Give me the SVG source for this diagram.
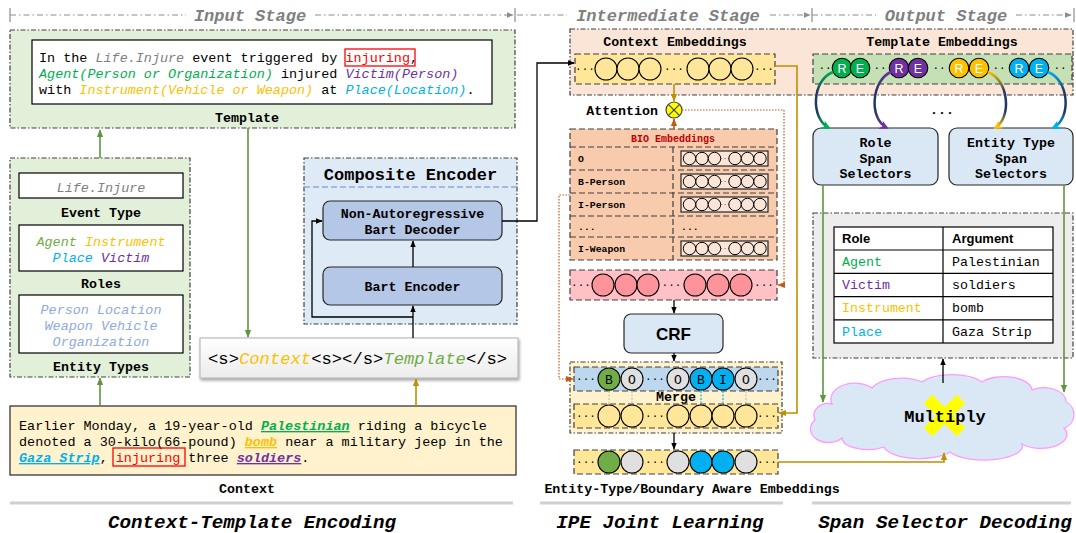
<svg xmlns="http://www.w3.org/2000/svg" width="1076" height="533" viewBox="0 0 1076 533">
<defs>
<style>
.m{font-family:"Liberation Mono","DejaVu Sans Mono",monospace}
.b{font-weight:bold}
.i{font-style:italic}
.s{font-family:"Liberation Sans",Arial,sans-serif}
.dd{stroke:#404040;stroke-width:1.2;stroke-dasharray:5,2,1.5,2}
.ds{stroke:#404040;stroke-width:1.2;stroke-dasharray:6,3}
.c{stroke:#000;stroke-width:1.1}
.hdr{font-family:"Liberation Mono",monospace;font-style:italic;font-weight:bold;font-size:17px;fill:#808080;text-anchor:middle}
.hl{stroke:#8c8c8c;stroke-width:1.2;stroke-dasharray:6,3,1.5,3;fill:none}
.tk{stroke:#8c8c8c;stroke-width:1.2}
.ttl{font-family:"Liberation Mono",monospace;font-style:italic;font-weight:bold;font-size:19.2px;text-anchor:middle}
.lbl{font-family:"Liberation Mono",monospace;font-weight:bold;font-size:13.3px;text-anchor:middle}
.lble{font-family:"Liberation Mono",monospace;font-weight:bold;font-size:13.3px;text-anchor:end}
.bar{stroke:#d0d0d0;stroke-width:3}
.dots{font-family:"Liberation Mono",monospace;font-size:11px;text-anchor:middle}
.ck{fill:none;stroke:#000;stroke-width:1.3}
.cg{fill:none;stroke:#5f9441;stroke-width:1.6}
.co{fill:none;stroke:#bf9000;stroke-width:1.6}
.cr{fill:none;stroke:#c55a11;stroke-width:1.2;stroke-dasharray:1.5,1.5}
.re{font-family:"Liberation Sans",Arial,sans-serif;font-size:12.5px;fill:#fff;text-anchor:middle}
.bo{font-family:"Liberation Mono",monospace;font-size:13px;text-anchor:middle}
.tv{font-family:"Liberation Mono",monospace;font-size:13.3px}
</style>
<marker id="ak" viewBox="0 0 10 10" refX="9" refY="5" markerWidth="7" markerHeight="7" markerUnits="userSpaceOnUse" orient="auto"><path d="M0,1L10,5L0,9z" fill="#000"/></marker>
<marker id="ag" viewBox="0 0 10 10" refX="9" refY="5" markerWidth="8" markerHeight="8" markerUnits="userSpaceOnUse" orient="auto"><path d="M0,1L10,5L0,9z" fill="#5f9441"/></marker>
<marker id="ao" viewBox="0 0 10 10" refX="9" refY="5" markerWidth="8" markerHeight="8" markerUnits="userSpaceOnUse" orient="auto"><path d="M0,1L10,5L0,9z" fill="#bf9000"/></marker>
<marker id="ar" viewBox="0 0 10 10" refX="9" refY="5" markerWidth="8" markerHeight="8" markerUnits="userSpaceOnUse" orient="auto"><path d="M0,1L10,5L0,9z" fill="#c55a11"/></marker>
<marker id="ah" viewBox="0 0 10 10" refX="9" refY="5" markerWidth="7" markerHeight="7" markerUnits="userSpaceOnUse" orient="auto"><path d="M0,1L10,5L0,9z" fill="#8c8c8c"/></marker>
<marker id="mG" viewBox="0 0 10 10" refX="8" refY="5" markerWidth="9" markerHeight="9" markerUnits="userSpaceOnUse" orient="auto"><path d="M0,0L10,5L0,10L3,5z" fill="#00b050"/></marker>
<marker id="mP" viewBox="0 0 10 10" refX="8" refY="5" markerWidth="9" markerHeight="9" markerUnits="userSpaceOnUse" orient="auto"><path d="M0,0L10,5L0,10L3,5z" fill="#7030a0"/></marker>
<marker id="mY" viewBox="0 0 10 10" refX="8" refY="5" markerWidth="9" markerHeight="9" markerUnits="userSpaceOnUse" orient="auto"><path d="M0,0L10,5L0,10L3,5z" fill="#ffc000"/></marker>
<marker id="mB" viewBox="0 0 10 10" refX="8" refY="5" markerWidth="9" markerHeight="9" markerUnits="userSpaceOnUse" orient="auto"><path d="M0,0L10,5L0,10L3,5z" fill="#00b0f0"/></marker>
<linearGradient id="gG" x1="0" y1="0" x2="0" y2="1"><stop offset="0" stop-color="#00b050"/><stop offset="0.35" stop-color="#1f3864"/><stop offset="0.7" stop-color="#1f3864"/><stop offset="1" stop-color="#00b050"/></linearGradient>
<linearGradient id="gP" x1="0" y1="0" x2="0" y2="1"><stop offset="0" stop-color="#7030a0"/><stop offset="0.35" stop-color="#1f3864"/><stop offset="0.7" stop-color="#1f3864"/><stop offset="1" stop-color="#7030a0"/></linearGradient>
<linearGradient id="gY" x1="0" y1="0" x2="0" y2="1"><stop offset="0" stop-color="#ffc000"/><stop offset="0.35" stop-color="#1f3864"/><stop offset="0.7" stop-color="#1f3864"/><stop offset="1" stop-color="#ffc000"/></linearGradient>
<linearGradient id="gB" x1="0" y1="0" x2="0" y2="1"><stop offset="0" stop-color="#00b0f0"/><stop offset="0.35" stop-color="#1f3864"/><stop offset="0.7" stop-color="#1f3864"/><stop offset="1" stop-color="#00b0f0"/></linearGradient>
<linearGradient id="gS" x1="0" y1="0" x2="0" y2="1"><stop offset="0" stop-color="#ffffff"/><stop offset="1" stop-color="#ececec"/></linearGradient>
<filter id="sh" x="-5%" y="-20%" width="110%" height="160%"><feDropShadow dx="1" dy="2" stdDeviation="1.5" flood-color="#7f7f7f" flood-opacity="0.7"/></filter>
<g id="mini">
<rect x="0" y="0" width="87" height="15" fill="#fbe5d6" stroke="#262626" stroke-width="1.2"/>
<g fill="#fbe5d6" stroke="#000" stroke-width="1">
<circle cx="8.5" cy="7.5" r="6.2"/><circle cx="21" cy="7.5" r="6.2"/><circle cx="33.5" cy="7.5" r="6.2"/>
<circle cx="54" cy="7.5" r="6.2"/><circle cx="66.5" cy="7.5" r="6.2"/><circle cx="79" cy="7.5" r="6.2"/>
</g>
<text x="44" y="9" font-family="Liberation Mono,monospace" font-size="6" text-anchor="middle">···</text>
</g>
</defs>

<rect width="1076" height="533" fill="#ffffff"/>

<g id="stage-headers">
<path class="tk" d="M10,8V22"/><path class="hl" d="M10,15H186"/>
<text class="hdr" x="250" y="21">Input Stage</text>
<path class="hl" d="M315,15H513" marker-end="url(#ah)"/><path class="tk" d="M515,8V22"/>
<path class="hl" d="M517,15H567"/>
<text class="hdr" x="668" y="21">Intermediate Stage</text>
<path class="hl" d="M770,15H810" marker-end="url(#ah)"/><path class="tk" d="M812,8V22"/>
<path class="hl" d="M812,15H876"/>
<text class="hdr" x="946" y="21">Output Stage</text>
<path class="hl" d="M1016,15H1071" marker-end="url(#ah)"/><path class="tk" d="M1074,8V22"/>
</g>

<g id="template">
<rect x="10" y="30" width="505" height="98" fill="#e2f0d9" class="dd"/>
<rect x="32" y="40" width="460" height="64" fill="#fff" stroke="#000" stroke-width="1.2"/>
<text class="m" font-size="13.45" x="39" y="62">In the <tspan class="i" fill="#808080">Life.Injure</tspan> event triggered by <tspan fill="#ff0000">injuring</tspan>,</text>
<rect x="345" y="49" width="70" height="17" fill="none" stroke="#ff0000" stroke-width="1.3"/>
<text class="m" font-size="13.45" x="39" y="78"><tspan class="i" fill="#00b050">Agent(Person or Organization)</tspan> injured <tspan class="i" fill="#7030a0">Victim(Person)</tspan></text>
<text class="m" font-size="13.45" x="39" y="94">with <tspan class="i" fill="#ffc000">Instrument(Vehicle or Weapon)</tspan> at <tspan class="i" fill="#00b0f0">Place(Location)</tspan>.</text>
<text class="lbl" x="247" y="122">Template</text>
</g>

<g id="schema">
<rect x="10" y="158" width="180" height="219" fill="#e2f0d9" class="dd"/>
<rect x="19" y="173" width="164" height="25" fill="#fff" stroke="#000" stroke-width="1.2"/>
<text class="m i" font-size="13.45" x="101" y="191.5" text-anchor="middle" fill="#808080">Life.Injure</text>
<text class="lbl" x="101" y="216.5">Event Type</text>
<rect x="19" y="225" width="164" height="46" fill="#fff" stroke="#000" stroke-width="1.2"/>
<text class="m i" font-size="13.45" x="101" y="245.5" text-anchor="middle"><tspan fill="#70ad47">Agent</tspan> <tspan fill="#ffc000">Instrument</tspan></text>
<text class="m i" font-size="13.45" x="101" y="261.5" text-anchor="middle"><tspan fill="#00b0f0">Place</tspan> <tspan fill="#7030a0">Victim</tspan></text>
<text class="lbl" x="101" y="288">Roles</text>
<rect x="19" y="295" width="164" height="58" fill="#fff" stroke="#000" stroke-width="1.2"/>
<text class="m i" font-size="13.45" x="101" y="313.5" text-anchor="middle" fill="#8eaadb">Person Location</text>
<text class="m i" font-size="13.45" x="101" y="329.5" text-anchor="middle" fill="#8eaadb">Weapon Vehicle</text>
<text class="m i" font-size="13.45" x="101" y="345.5" text-anchor="middle" fill="#8eaadb">Organization</text>
<text class="lbl" x="101" y="370.5">Entity Types</text>
</g>

<g id="composite-encoder">
<rect x="304" y="158" width="213" height="166" fill="#deebf7" class="dd"/>
<text class="m b" font-size="17" x="410.5" y="180" text-anchor="middle">Composite Encoder</text>
<path d="M304,187H517" stroke="#8faadc" stroke-width="1.5" stroke-dasharray="6,3"/>
</g>
<g id="bart-decoder">
<rect x="323" y="201" width="179" height="39" rx="7" fill="#b4c7e7" stroke="#262626" stroke-width="1.2"/>
<text class="lbl" font-size="13.5" x="412.5" y="218">Non-Autoregressive</text>
<text class="lbl" font-size="13.5" x="412.5" y="234">Bart Decoder</text>
</g>
<g id="bart-encoder">
<rect x="323" y="267" width="179" height="38" rx="7" fill="#b4c7e7" stroke="#262626" stroke-width="1.2"/>
<text class="lbl" font-size="13.5" x="412.5" y="291">Bart Encoder</text>
</g>

<g id="input-sequence">
<rect x="200" y="338" width="318" height="40" fill="url(#gS)" stroke="#bdbdbd" stroke-width="1.2" filter="url(#sh)"/>
<text class="m" font-size="17.2" x="208" y="364">&lt;s&gt;<tspan class="i" fill="#ffc000">Context</tspan>&lt;s&gt;&lt;/s&gt;<tspan class="i" fill="#70ad47">Template</tspan>&lt;/s&gt;</text>
</g>

<g id="context">
<rect x="10" y="406" width="506" height="69" fill="#fff2cc" stroke="#262626" stroke-width="1.2"/>
<text class="m" font-size="13.45" x="19" y="430">Earlier Monday, a 19-year-old <tspan class="b i" fill="#00b050" text-decoration="underline">Palestinian</tspan> riding a bicycle</text>
<text class="m" font-size="13.45" x="19" y="446">denoted a 30-kilo(66-pound) <tspan class="b i" fill="#ffc000" text-decoration="underline">bomb</tspan> near a military jeep in the</text>
<text class="m" font-size="13.45" x="19" y="462"><tspan class="b i" fill="#00b0f0" text-decoration="underline">Gaza Strip</tspan>, <tspan fill="#ff0000">injuring</tspan> three <tspan class="b i" fill="#7030a0" text-decoration="underline">soldiers</tspan>.</text>
<rect x="113" y="448" width="72" height="18" fill="none" stroke="#ff0000" stroke-width="1.3"/>
<text class="lbl" x="247" y="493">Context</text>
</g>

<g id="embeddings-panel">
<rect x="570" y="29" width="503" height="66" fill="#fbe5d6" class="dd"/>
</g>
<g id="context-embeddings">
<text class="lbl" x="675" y="46">Context Embeddings</text>
<rect x="575" y="54" width="200" height="30" fill="#ffe699" class="ds"/>
<g fill="#ffe699" class="c"><circle cx="606" cy="69" r="11"/><circle cx="628" cy="69" r="11"/><circle cx="650" cy="69" r="11"/><circle cx="698" cy="69" r="11"/><circle cx="720" cy="69" r="11"/><circle cx="742" cy="69" r="11"/></g>
<text class="dots" x="585" y="72">···</text><text class="dots" x="674" y="72">···</text><text class="dots" x="764" y="72">···</text>
</g>

<g id="attention">
<text class="lble" x="658" y="115">Attention</text>
<circle cx="674" cy="110" r="8" fill="#ffff00" stroke="#404040" stroke-width="1.2"/>
<path d="M668.3,104.3L679.7,115.7M679.7,104.3L668.3,115.7" stroke="#404040" stroke-width="1.2"/>
</g>

<g id="bio-embeddings">
<rect x="570" y="129" width="207" height="131" fill="#f8cbad" class="ds"/>
<path d="M570,147H777M570,170H777M570,193H777M570,216H777M570,237H777M673,147V260" class="ds" fill="none"/>
<text class="m b" font-size="10" x="673" y="142" text-anchor="middle" fill="#c00000">BIO Embeddings</text>
<g class="m b" font-size="9.8"><text x="578" y="162">O</text><text x="578" y="185">B-Person</text><text x="578" y="208">I-Person</text><text x="578" y="230">...</text><text x="578" y="252">I-Weapon</text><text x="681" y="230">...</text></g>
<use href="#mini" x="681" y="151"/><use href="#mini" x="681" y="174"/><use href="#mini" x="681" y="197"/><use href="#mini" x="681" y="241"/>
</g>

<g id="fused-embeddings">
<rect x="570" y="270" width="207" height="30" fill="#ffc0c6" class="ds"/>
<g fill="#ff939c" class="c"><circle cx="603" cy="285" r="11"/><circle cx="626" cy="285" r="11"/><circle cx="648" cy="285" r="11"/><circle cx="695" cy="285" r="11"/><circle cx="718" cy="285" r="11"/><circle cx="741" cy="285" r="11"/></g>
<text class="dots" x="581" y="288">···</text><text class="dots" x="671.5" y="288">···</text><text class="dots" x="764" y="288">···</text>
</g>

<g id="crf">
<rect x="624" y="314" width="99" height="39" rx="7" fill="#dae8f5" stroke="#262626" stroke-width="1.2"/>
<text class="s b" font-size="17" x="673.5" y="339.5" text-anchor="middle">CRF</text>
</g>

<g id="merge">
<rect x="570" y="362" width="212" height="71" fill="#fff2cc" class="dd"/>
<rect x="574" y="367" width="204" height="24" fill="#bdd7ee" class="ds"/>
<g stroke-width="1.2" stroke-dasharray="2,1.5" fill="none">
<path d="M609,391V404" stroke="#a9d18e"/><path d="M632,391V404" stroke="#bfbfbf"/><path d="M701,391V404" stroke="#00b0f0"/><path d="M723,391V404" stroke="#00b0f0"/><path d="M746,391V404" stroke="#bfbfbf"/>
</g>
<g class="c"><circle cx="609" cy="379" r="11" fill="#70ad47"/><circle cx="632" cy="379" r="11" fill="#e0e0e0"/><circle cx="678" cy="379" r="11" fill="#e0e0e0"/><circle cx="701" cy="379" r="11" fill="#00b0f0"/><circle cx="723" cy="379" r="11" fill="#00b0f0"/><circle cx="746" cy="379" r="11" fill="#e0e0e0"/></g>
<g class="bo"><text x="609" y="383.5">B</text><text x="632" y="383.5">O</text><text x="678" y="383.5">O</text><text x="701" y="383.5">B</text><text x="723" y="383.5">I</text><text x="746" y="383.5">O</text></g>
<text class="dots" x="586" y="382">···</text><text class="dots" x="655" y="382">···</text><text class="dots" x="767" y="382">···</text>
<text class="lbl" x="676" y="401">Merge</text>
<rect x="574" y="404" width="204" height="24" fill="#ffe699" class="ds"/>
<g fill="#ffe699" class="c"><circle cx="609" cy="416" r="11"/><circle cx="632" cy="416" r="11"/><circle cx="678" cy="416" r="11"/><circle cx="701" cy="416" r="11"/><circle cx="723" cy="416" r="11"/><circle cx="746" cy="416" r="11"/></g>
<text class="dots" x="586" y="419">···</text><text class="dots" x="655" y="419">···</text><text class="dots" x="767" y="419">···</text>
</g>

<g id="aware-embeddings">
<rect x="574" y="450" width="204" height="24" fill="#ffe699" class="ds"/>
<g class="c"><circle cx="609" cy="462" r="11" fill="#70ad47"/><circle cx="632" cy="462" r="11" fill="#e0e0e0"/><circle cx="678" cy="462" r="11" fill="#e0e0e0"/><circle cx="701" cy="462" r="11" fill="#00b0f0"/><circle cx="723" cy="462" r="11" fill="#00b0f0"/><circle cx="746" cy="462" r="11" fill="#e0e0e0"/></g>
<text class="dots" x="586" y="465">···</text><text class="dots" x="655" y="465">···</text><text class="dots" x="767" y="465">···</text>
<text class="lbl" x="692" y="493">Entity-Type/Boundary Aware Embeddings</text>
</g>

<g id="template-embeddings">
<text class="lbl" x="942" y="46">Template Embeddings</text>
<rect x="813" y="54" width="259" height="30" fill="#c5e0b4" class="ds"/>
<g class="c" stroke-width="1"><circle cx="842" cy="68" r="9.8" fill="#00b050"/><circle cx="860" cy="68" r="9.8" fill="#00b050"/><circle cx="899" cy="68" r="9.8" fill="#7030a0"/><circle cx="918" cy="68" r="9.8" fill="#7030a0"/><circle cx="959" cy="68" r="9.8" fill="#ffc000"/><circle cx="979" cy="68" r="9.8" fill="#ffc000"/><circle cx="1019" cy="68" r="9.8" fill="#00b0f0"/><circle cx="1039" cy="68" r="9.8" fill="#00b0f0"/></g>
<g class="re"><text x="842" y="72.5">R</text><text x="860" y="72.5">E</text><text x="899" y="72.5">R</text><text x="918" y="72.5">E</text><text x="959" y="72.5">R</text><text x="979" y="72.5">E</text><text x="1019" y="72.5">R</text><text x="1039" y="72.5">E</text></g>
<g class="dots" font-size="9"><text x="825" y="71">··</text><text x="880" y="71">··</text><text x="939" y="71">··</text><text x="999" y="71">··</text><text x="1060" y="71">··</text></g>
</g>

<g id="role-span-selectors">
<rect x="813" y="128" width="125" height="57" rx="8" fill="#dae8f5" stroke="#262626" stroke-width="1.2"/>
<text class="lbl" x="875.5" y="146.5">Role</text><text class="lbl" x="875.5" y="162.5">Span</text><text class="lbl" x="875.5" y="178">Selectors</text>
</g>
<g id="entity-type-span-selectors">
<rect x="949" y="128" width="124" height="57" rx="8" fill="#dae8f5" stroke="#262626" stroke-width="1.2"/>
<text class="lbl" x="1011" y="146.5">Entity Type</text><text class="lbl" x="1011" y="162.5">Span</text><text class="lbl" x="1011" y="178">Selectors</text>
</g>
<text class="lbl" x="942" y="114">...</text>

<g id="result-table">
<rect x="813" y="213" width="260" height="145" fill="#ededed" class="dd"/>
<rect x="834" y="227" width="219" height="116" fill="#fff" stroke="#000" stroke-width="1.2"/>
<path d="M834,250H1053M834,273.4H1053M834,296.6H1053M834,319.8H1053M943,227V343" stroke="#000" stroke-width="1.2" fill="none"/>
<text class="s b" font-size="13" x="842" y="243">Role</text><text class="s b" font-size="13" x="952" y="243">Argument</text>
<text class="tv" x="842" y="266" fill="#00b050">Agent</text><text class="tv" x="952" y="266">Palestinian</text>
<text class="tv" x="842" y="289" fill="#7030a0">Victim</text><text class="tv" x="952" y="289">soldiers</text>
<text class="tv" x="842" y="312" fill="#ffc000">Instrument</text><text class="tv" x="952" y="312">bomb</text>
<text class="tv" x="842" y="335.5" fill="#00b0f0">Place</text><text class="tv" x="952" y="335.5">Gaza Strip</text>
</g>

<g id="multiply">
<path d="M832,404 A24,16 0 0 1 872,388 A32,16 0 0 1 922,382 A34,14 0 0 1 982,382 A28,14 0 0 1 1032,390 A22,14 0 0 1 1066,402 A14,14 0 0 1 1064,428 A26,14 0 0 1 1022,444 A38,14 0 0 1 950,452 A36,14 0 0 1 884,447 A26,12 0 0 1 842,438 A16,12 0 0 1 815,420 A14,12 0 0 1 832,404 Z" fill="#dae8f5" stroke="#ff99ff" stroke-width="1.3"/>
<path d="M928,399L961,432M961,399L928,432" stroke="#ffff00" stroke-width="12"/>
<text class="m b" font-size="17" x="945" y="422" text-anchor="middle">Multiply</text>
</g>

<g id="connectors">
<path class="cg" d="M100,158V130" marker-end="url(#ag)"/>
<path class="cg" d="M248,128V337" marker-end="url(#ag)"/>
<path class="cg" d="M100,406V378" marker-end="url(#ag)"/>
<path class="co" d="M416,406V379" marker-end="url(#ao)"/>
<path class="ck" d="M413,338V306" marker-end="url(#ak)"/>
<path class="ck" d="M413,317H312V221H322" marker-end="url(#ak)"/>
<path class="ck" d="M413,267V241" marker-end="url(#ak)"/>
<path class="ck" d="M502,221H537V63H574" marker-end="url(#ak)"/>
<path class="co" d="M674,84V101" marker-end="url(#ao)"/>
<path fill="none" stroke="#c55a11" stroke-width="1.6" d="M674,129V119" marker-end="url(#ar)"/>
<path class="cr" d="M682,110H784V285H778" marker-end="url(#ar)"/>
<path class="cr" d="M570,195H559V379H573" marker-end="url(#ar)"/>
<path class="co" d="M775,66H797V413H779" marker-end="url(#ao)"/>
<path class="ck" d="M674,300V313" marker-end="url(#ak)"/>
<path class="ck" d="M674,353V361" marker-end="url(#ak)"/>
<path class="ck" d="M674,433V449" marker-end="url(#ak)"/>
<path class="co" d="M778,462H944V453" marker-end="url(#ao)"/>
<path fill="none" stroke="url(#gG)" stroke-width="2.5" d="M833,72C812,80 810,118 829,128" marker-end="url(#mG)"/>
<path fill="none" stroke="url(#gP)" stroke-width="2.5" d="M891,72C872,80 868,118 887,128" marker-end="url(#mP)"/>
<path fill="none" stroke="url(#gY)" stroke-width="2.5" d="M988,72C1009,80 1012,118 995,128" marker-end="url(#mY)"/>
<path fill="none" stroke="url(#gB)" stroke-width="2.5" d="M1048,72C1069,80 1072,118 1053,128" marker-end="url(#mB)"/>
<path class="cg" d="M823,185V402" marker-end="url(#ag)"/>
<path class="cg" d="M1064,185V392" marker-end="url(#ag)"/>
<path class="ck" d="M943,383V359" marker-end="url(#ak)"/>
</g>

<g id="section-titles">
<path class="bar" d="M10,503H513M540,503H783M812,503H1071"/>
<text class="ttl" x="252" y="528">Context-Template Encoding</text>
<text class="ttl" x="660" y="528">IPE Joint Learning</text>
<text class="ttl" x="945" y="528">Span Selector Decoding</text>
</g>
</svg>
